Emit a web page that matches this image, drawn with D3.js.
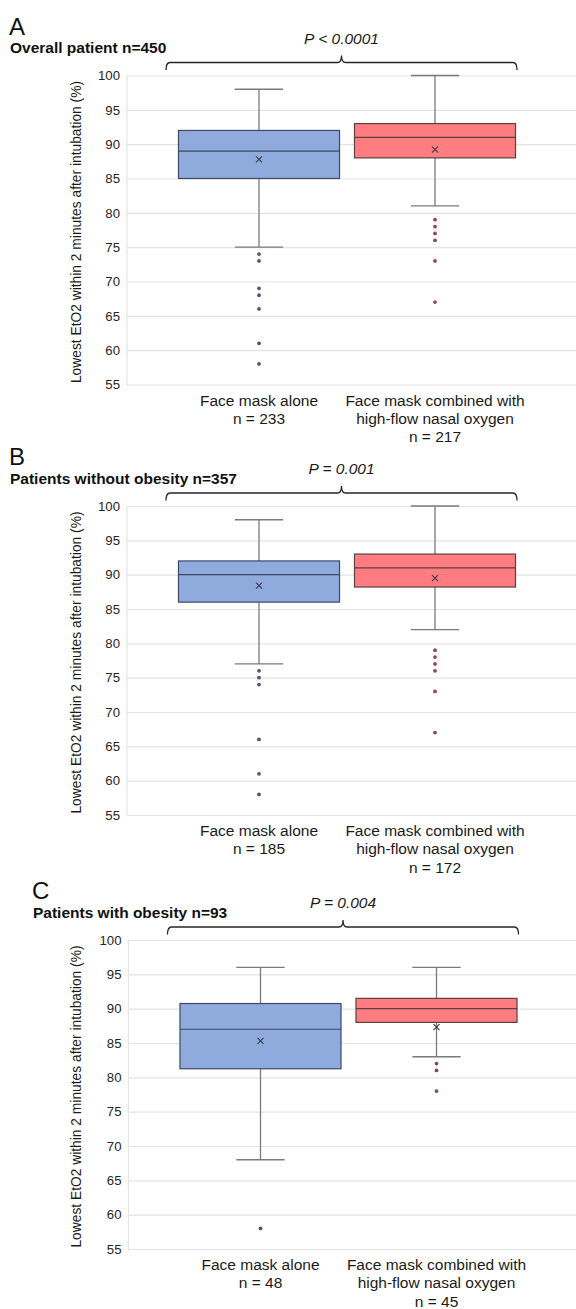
<!DOCTYPE html>
<html>
<head>
<meta charset="utf-8">
<script src="https://cdn.jsdelivr.net/npm/d3@7"></script>
<style>
  body { margin: 0; background: #fff; }
  svg { display: block; font-family: "Liberation Sans", Arial, sans-serif; }
</style>
</head>
<body>
<div id="chart"></div>
<script>
// chart data
var categories = ["Face mask alone", "Face mask combined with high-flow nasal oxygen"];
var categoryLines = [["Face mask alone"], ["Face mask combined with", "high-flow nasal oxygen"]];
var panelLetters = ["A", "B", "C"];
var panelTitles = ["Overall patient n=450", "Patients without obesity n=357", "Patients with obesity n=93"];
var pValues = ["P < 0.0001", "P = 0.001", "P = 0.004"];
var groupNs = [[233, 217], [185, 172], [48, 45]];
var yTicks = [55, 60, 65, 70, 75, 80, 85, 90, 95, 100];
var yTitle = "Lowest EtO2 within 2 minutes after intubation (%)";

// [lower whisker, Q1, median, Q3, upper whisker] for each panel
var maskAlone = [[75, 85, 89, 92, 98], [77, 86, 90, 92, 98], [68, 81.25, 87, 90.75, 96]];
var maskHfno = [[81, 88, 91, 93, 100], [82, 88.2, 91, 93, 100], [83, 88, 90, 91.5, 96]];
var meanAlone = [87.8, 88.4, 85.3];
var meanHfno = [89.2, 89.5, 87.3];
var outliersAlone = [[74, 73, 69, 68, 66, 61, 58], [76, 75, 74, 66, 61, 58], [58]];
var outliersHfno = [[79, 78, 77, 76, 73, 67], [79, 78, 77, 76, 73, 67], [82, 81, 78]];

var fills = ["#8faadc", "#ff7c80"];
var strokes = ["#3d4a63", "#5a4040"];
var dotColors = ["#4a5775", "#8c4a4f"];

// panel placement (top of value axis, horizontal shifts)
var panels = [
  {top: 75.5, dx: 0, tdx: 0},
  {top: 506, dx: 0, tdx: 0},
  {top: 940, dx: 1.5, tdx: 23}
];
var plotH = 309;
var W = 576, H = 1309;

var svg = d3.select("#chart").append("svg")
  .attr("width", W)
  .attr("height", H);

svg.append("rect").attr("width", W).attr("height", H).attr("fill", "#fff");

function drawPanel(i) {
  var p = panels[i];
  var plotLeft = 127 + p.dx;
  var g = svg.append("g");

  var y = d3.scaleLinear()
    .domain([55, 100])
    .range([p.top + plotH, p.top]);

  var x = d3.scaleBand()
    .domain(categories)
    .range([171 + p.dx, 523 + p.dx])
    .padding(0);

  // grid + tick labels
  var axis = g.append("g")
    .attr("transform", "translate(" + plotLeft + ",0)")
    .call(d3.axisLeft(y).tickValues(yTicks).tickSize(-(W - plotLeft)).tickPadding(7));
  axis.select(".domain").remove();
  axis.selectAll(".tick line").attr("stroke", "#e4e4e4").attr("stroke-width", 1.2);
  axis.selectAll(".tick text")
    .attr("fill", "#262626")
    .style("font-size", "13.2px")
    .style("font-family", "Liberation Sans, Arial, sans-serif");

  g.append("line")
    .attr("x1", plotLeft).attr("x2", plotLeft)
    .attr("y1", y(100)).attr("y2", y(55))
    .attr("stroke", "#e4e4e4").attr("stroke-width", 1.2);

  // y title
  g.append("text")
    .attr("transform", "translate(81," + (y(77.5) + 2) + ")rotate(-90)")
    .attr("text-anchor", "middle")
    .style("font-size", "13.8px")
    .attr("fill", "#1a1a1a")
    .text(yTitle);

  // boxes
  var groups = [
    {stats: maskAlone[i], mean: meanAlone[i], out: outliersAlone[i]},
    {stats: maskHfno[i], mean: meanHfno[i], out: outliersHfno[i]}
  ];

  groups.forEach(function(d, k) {
    var cx = x(categories[k]) + x.bandwidth() / 2;
    var bw = x.bandwidth() * 0.915;
    var cap = bw * 0.3;
    var s = d.stats;

    // whiskers
    g.append("line")
      .attr("x1", cx).attr("x2", cx)
      .attr("y1", y(s[4])).attr("y2", y(s[3]))
      .attr("stroke", "#7a7a7a").attr("stroke-width", 1.3);
    g.append("line")
      .attr("x1", cx).attr("x2", cx)
      .attr("y1", y(s[1])).attr("y2", y(s[0]))
      .attr("stroke", "#7a7a7a").attr("stroke-width", 1.3);
    [s[0], s[4]].forEach(function(v) {
      g.append("line")
        .attr("x1", cx - cap / 2).attr("x2", cx + cap / 2)
        .attr("y1", y(v)).attr("y2", y(v))
        .attr("stroke", "#7a7a7a").attr("stroke-width", 1.3);
    });

    // box
    g.append("rect")
      .attr("x", cx - bw / 2)
      .attr("y", y(s[3]))
      .attr("width", bw)
      .attr("height", y(s[1]) - y(s[3]))
      .attr("fill", fills[k])
      .attr("stroke", strokes[k])
      .attr("stroke-width", 1.2);

    // median
    g.append("line")
      .attr("x1", cx - bw / 2).attr("x2", cx + bw / 2)
      .attr("y1", y(s[2])).attr("y2", y(s[2]))
      .attr("stroke", strokes[k]).attr("stroke-width", 1.2);

    // mean x
    var my = y(d.mean), m = 3;
    g.append("path")
      .attr("d", "M" + (cx - m) + "," + (my - m) + "L" + (cx + m) + "," + (my + m) +
                 "M" + (cx - m) + "," + (my + m) + "L" + (cx + m) + "," + (my - m))
      .attr("stroke", "#3a3a4a").attr("stroke-width", 1.1).attr("fill", "none");

    // outliers
    g.selectAll(null)
      .data(d.out)
      .enter()
      .append("circle")
      .attr("cx", cx)
      .attr("cy", function(v) { return y(v); })
      .attr("r", 1.9)
      .attr("fill", dotColors[k]);

    // category label
    var lines = categoryLines[k].concat(["n = " + groupNs[i][k]]);
    var t = g.append("text")
      .attr("text-anchor", "middle")
      .attr("fill", "#1a1a1a")
      .style("font-size", "15.5px");
    lines.forEach(function(l, j) {
      t.append("tspan")
        .attr("x", cx)
        .attr("y", y(55) + 21 + j * 18.3)
        .text(l);
    });
  });

  // bracket with P value
  var bl = x.range()[0] - 5, br = x.range()[1] - 6, bc = (bl + br) / 2;
  var hy = p.top - 13, ey = p.top - 5.5, ty = p.top - 20;
  g.append("path")
    .attr("d", "M" + bl + "," + ey + "Q" + bl + "," + hy + " " + (bl + 4) + "," + hy +
               "H" + (bc - 4) + "Q" + bc + "," + hy + " " + bc + "," + ty +
               "Q" + bc + "," + hy + " " + (bc + 4) + "," + hy +
               "H" + (br - 4) + "Q" + br + "," + hy + " " + br + "," + ey)
    .attr("fill", "none").attr("stroke", "#262626").attr("stroke-width", 1.3);

  g.append("text")
    .attr("x", bc)
    .attr("y", p.top - 32)
    .attr("text-anchor", "middle")
    .style("font-size", "15.5px")
    .style("font-style", "italic")
    .attr("fill", "#1a1a1a")
    .text(pValues[i]);

  // panel letter + title
  g.append("text")
    .attr("x", 9 + p.tdx)
    .attr("y", p.top - 41)
    .style("font-size", "24px")
    .attr("fill", "#111")
    .text(panelLetters[i]);

  g.append("text")
    .attr("x", 10 + p.tdx)
    .attr("y", p.top - 22.5)
    .style("font-size", "15.5px")
    .style("font-weight", "bold")
    .attr("fill", "#111")
    .text(panelTitles[i]);
}

for (var i = 0; i < panels.length; i++) {
  drawPanel(i);
}
</script>
</body>
</html>
